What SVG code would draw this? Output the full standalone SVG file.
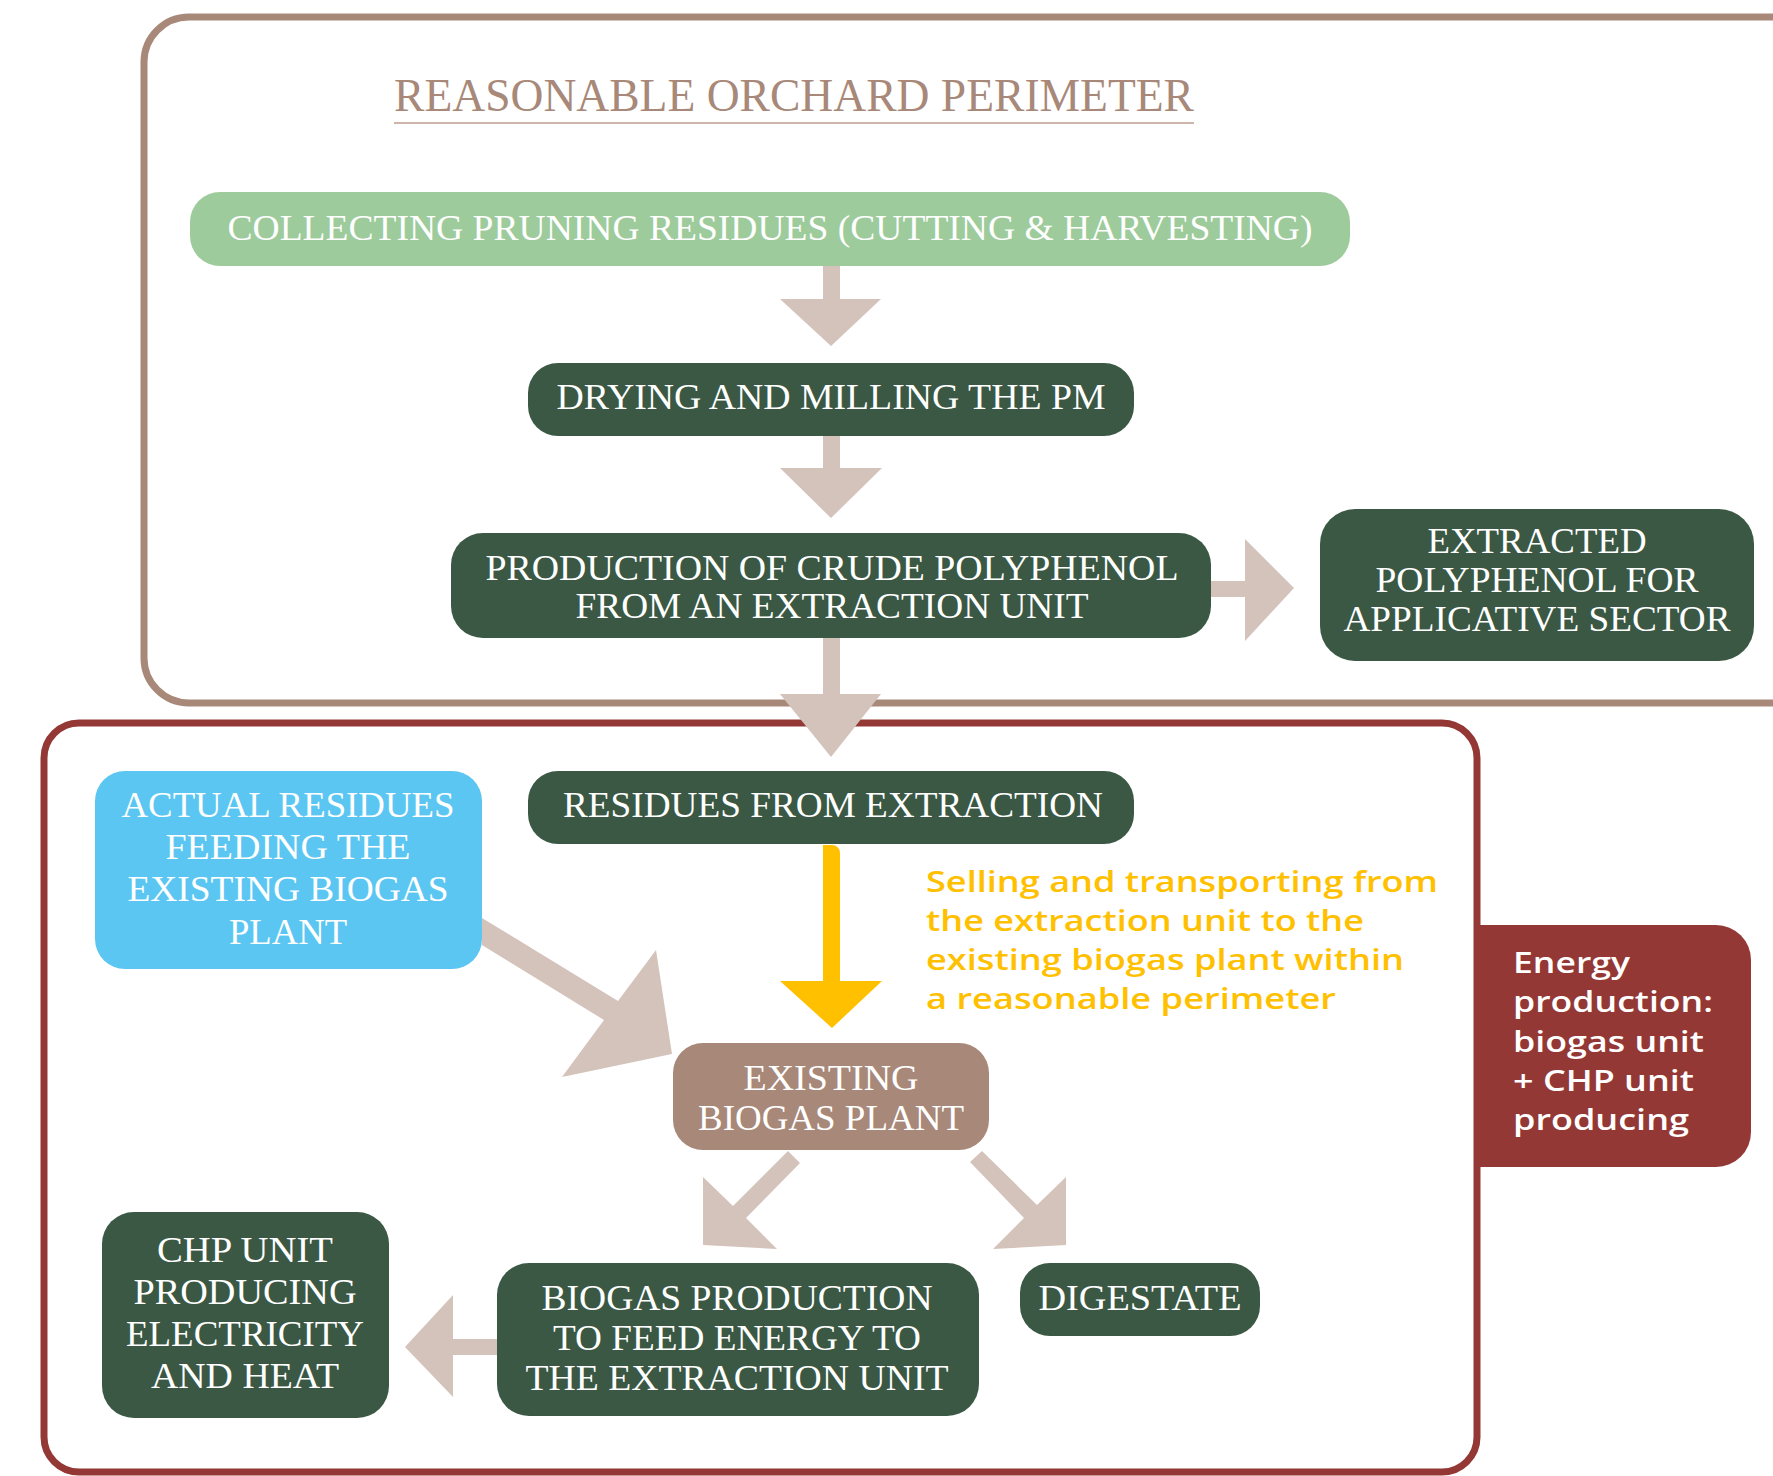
<svg xmlns="http://www.w3.org/2000/svg" width="1773" height="1476" viewBox="0 0 1773 1476">
<style>
.frame{fill:none;stroke-width:7}
.dk{fill:#3a5844}
.arr{fill:#d4c3bb}
.t{font-family:"Liberation Serif",serif;fill:#ffffff;font-size:36px;text-anchor:middle}
.s{font-family:"Open Sans","Noto Sans",sans-serif;font-size:29px;font-weight:600}
</style>
<rect width="1773" height="1476" fill="#ffffff"/>
<g id="frames">
<rect class="frame" x="144" y="17" width="1700" height="686" rx="45" stroke="#a88878"/>
<rect class="frame" x="44" y="723" width="1433" height="749" rx="35" stroke="#943835"/>
</g>
<g id="title">
<text x="394" y="111" font-family="Liberation Serif, serif" font-size="46" fill="#a88878" textLength="800" lengthAdjust="spacingAndGlyphs">REASONABLE ORCHARD PERIMETER</text>
<line x1="394" y1="123" x2="1194" y2="123" stroke="#cdb5aa" stroke-width="2"/>
</g>
<g id="connectors">
<path class="arr" d="M823,266H840V299H881L831,346L780,299H823Z"/>
<path class="arr" d="M823,436H840V468H882L831,518L780,468H823Z"/>
<path class="arr" d="M823,638H840V694H881L831,757L780,694H823Z"/>
<path class="arr" d="M1211,581H1245V539L1294,588L1245,641V597H1211Z"/>
<path class="arr" d="M482,918L618,1001L656,950L672,1054L562,1077L604,1020L482,945Z"/>
<path class="arr" d="M788,1151L800,1163L746,1218L777,1249L703,1245L703,1177L733,1206Z"/>
<path class="arr" d="M982,1151L1037,1205L1066,1177L1066,1245L993,1249L1024,1218L970,1162Z"/>
<path class="arr" d="M497,1339H453V1295L405,1347L453,1397V1355H497Z"/>
<path fill="#ffc000" d="M823,845H832A8,8 0 0 1 840,853V981H882L832,1028L780,981H823Z"/>
<g class="s" fill="#ffc000">
<text x="926" y="892" textLength="512" lengthAdjust="spacingAndGlyphs">Selling and transporting from</text>
<text x="926" y="931" textLength="438" lengthAdjust="spacingAndGlyphs">the extraction unit to the</text>
<text x="926" y="970" textLength="478" lengthAdjust="spacingAndGlyphs">existing biogas plant within</text>
<text x="926" y="1009" textLength="410" lengthAdjust="spacingAndGlyphs">a reasonable perimeter</text>
</g>
</g>
<g id="n-collecting">
<rect x="190" y="192" width="1160" height="74" rx="30" fill="#9dcb9b"/>
<text class="t" x="770" y="240" font-size="37" textLength="1085" lengthAdjust="spacingAndGlyphs">COLLECTING PRUNING RESIDUES (CUTTING &amp; HARVESTING)</text>
</g>
<g id="n-drying">
<rect class="dk" x="528" y="363" width="606" height="73" rx="30"/>
<text class="t" x="831" y="409" textLength="549" lengthAdjust="spacingAndGlyphs">DRYING AND MILLING THE PM</text>
</g>
<g id="n-production">
<rect class="dk" x="451" y="533" width="760" height="105" rx="32"/>
<text class="t" x="832" y="580" textLength="693" lengthAdjust="spacingAndGlyphs">PRODUCTION OF CRUDE POLYPHENOL</text>
<text class="t" x="832" y="618" textLength="513" lengthAdjust="spacingAndGlyphs">FROM AN EXTRACTION UNIT</text>
</g>
<g id="n-extracted">
<rect class="dk" x="1320" y="509" width="434" height="152" rx="35"/>
<text class="t" x="1537" y="553" textLength="219" lengthAdjust="spacingAndGlyphs">EXTRACTED</text>
<text class="t" x="1537" y="592" textLength="323" lengthAdjust="spacingAndGlyphs">POLYPHENOL FOR</text>
<text class="t" x="1537" y="631" textLength="387" lengthAdjust="spacingAndGlyphs">APPLICATIVE SECTOR</text>
</g>
<g id="n-residues">
<rect class="dk" x="528" y="771" width="606" height="73" rx="30"/>
<text class="t" x="833" y="817" textLength="540" lengthAdjust="spacingAndGlyphs">RESIDUES FROM EXTRACTION</text>
</g>
<g id="n-actual">
<rect x="95" y="771" width="387" height="198" rx="30" fill="#5bc6f2"/>
<text class="t" x="288" y="817" textLength="333" lengthAdjust="spacingAndGlyphs">ACTUAL RESIDUES</text>
<text class="t" x="288" y="859" textLength="245" lengthAdjust="spacingAndGlyphs">FEEDING THE</text>
<text class="t" x="288" y="901" textLength="321" lengthAdjust="spacingAndGlyphs">EXISTING BIOGAS</text>
<text class="t" x="288" y="944" textLength="118" lengthAdjust="spacingAndGlyphs">PLANT</text>
</g>
<g id="n-plant">
<rect x="673" y="1043" width="316" height="107" rx="30" fill="#a88878"/>
<text class="t" x="831" y="1090" textLength="175" lengthAdjust="spacingAndGlyphs">EXISTING</text>
<text class="t" x="831" y="1130" textLength="266" lengthAdjust="spacingAndGlyphs">BIOGAS PLANT</text>
</g>
<g id="n-chp">
<rect class="dk" x="102" y="1212" width="287" height="206" rx="32"/>
<text class="t" x="245" y="1262" textLength="176" lengthAdjust="spacingAndGlyphs">CHP UNIT</text>
<text class="t" x="245" y="1304" textLength="223" lengthAdjust="spacingAndGlyphs">PRODUCING</text>
<text class="t" x="245" y="1346" textLength="238" lengthAdjust="spacingAndGlyphs">ELECTRICITY</text>
<text class="t" x="245" y="1388" textLength="188" lengthAdjust="spacingAndGlyphs">AND HEAT</text>
</g>
<g id="n-biogas">
<rect class="dk" x="497" y="1263" width="482" height="153" rx="32"/>
<text class="t" x="737" y="1310" textLength="391" lengthAdjust="spacingAndGlyphs">BIOGAS PRODUCTION</text>
<text class="t" x="737" y="1350" textLength="368" lengthAdjust="spacingAndGlyphs">TO FEED ENERGY TO</text>
<text class="t" x="737" y="1390" textLength="423" lengthAdjust="spacingAndGlyphs">THE EXTRACTION UNIT</text>
</g>
<g id="n-digestate">
<rect class="dk" x="1020" y="1263" width="240" height="73" rx="30"/>
<text class="t" x="1140" y="1310" textLength="203" lengthAdjust="spacingAndGlyphs">DIGESTATE</text>
</g>
<g id="n-energy">
<path d="M1477,925H1716A35,35 0 0 1 1751,960V1132A35,35 0 0 1 1716,1167H1477Z" fill="#943835"/>
<g class="s" fill="#ffffff">
<text x="1513" y="973" textLength="117" lengthAdjust="spacingAndGlyphs">Energy</text>
<text x="1513" y="1012" textLength="200" lengthAdjust="spacingAndGlyphs">production:</text>
<text x="1513" y="1052" textLength="191" lengthAdjust="spacingAndGlyphs">biogas unit</text>
<text x="1513" y="1091" textLength="181" lengthAdjust="spacingAndGlyphs">+ CHP unit</text>
<text x="1513" y="1130" textLength="176" lengthAdjust="spacingAndGlyphs">producing</text>
</g>
</g>
</svg>
